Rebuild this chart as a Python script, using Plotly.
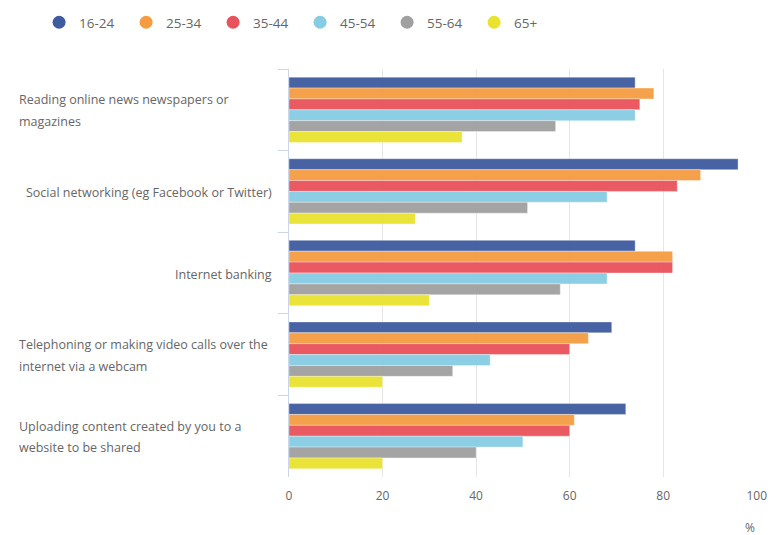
import plotly.graph_objects as go

# Activities (top to bottom) and share of internet users doing each, by age band (%)
activities = [
    "Reading online news newspapers or<br>magazines",
    "Social networking (eg Facebook or Twitter)",
    "Internet banking",
    "Telephoning or making video calls over the<br>internet via a webcam",
    "Uploading content created by you to a<br>website to be shared",
]
age_groups = ["16-24", "25-34", "35-44", "45-54", "55-64", "65+"]

age_16_24 = [74, 96, 74, 69, 72]
age_25_34 = [78, 88, 82, 64, 61]
age_35_44 = [75, 83, 82, 60, 60]
age_45_54 = [74, 68, 68, 43, 50]
age_55_64 = [57, 51, 58, 35, 40]
age_65_plus = [37, 27, 30, 20, 20]

x_ticks = [0, 20, 40, 60, 80, 100]

series = [age_16_24, age_25_34, age_35_44, age_45_54, age_55_64, age_65_plus]
colors = ["#3f5b9f", "#f59c43", "#e8525a", "#86cce2", "#a0a0a0", "#e9e330"]
text_color = "#666666"
font_family = "Open Sans, Roboto, sans-serif"

fig = go.Figure()

for name, vals, col in zip(age_groups, series, colors):
    fig.add_trace(go.Bar(
        y=activities, x=vals, orientation="h", name=name,
        marker=dict(color=col, line=dict(color="rgba(255,255,255,0.35)", width=1)),
        opacity=0.95, legendgroup=name, showlegend=False,
    ))
    # round legend swatch
    fig.add_trace(go.Scatter(
        x=[None], y=[None], mode="markers", name=name, legendgroup=name,
        marker=dict(color=col, size=13, symbol="circle"),
    ))

# category labels drawn beside the axis: wrapped labels left-aligned, single lines right-aligned
label_font = dict(size=12.5, color=text_color, family=font_family)
for cat in activities:
    lines = cat.split("<br>")
    if len(lines) == 1:
        fig.add_annotation(x=0, xref="paper", y=cat, yref="y", text=lines[0],
                           xanchor="right", xshift=-15, yshift=-1, showarrow=False,
                           font=label_font)
    else:
        shifts = [10, -11.5]
        for line, sh in zip(lines, shifts):
            fig.add_annotation(x=0, xref="paper", y=cat, yref="y", text=line,
                               xanchor="left", xshift=-272, yshift=sh, showarrow=False,
                               font=label_font)

# unit label under the axis end
fig.add_annotation(x=100, xref="x", y=0, yref="paper", text="%", showarrow=False,
                   xshift=-7, yshift=-50, yanchor="middle",
                   font=dict(size=12, color=text_color, family=font_family))

fig.update_layout(
    width=777, height=535,
    margin=dict(l=289, r=20, t=69, b=58, autoexpand=False),
    paper_bgcolor="white", plot_bgcolor="white",
    barmode="group", bargap=0.2, bargroupgap=0,
    font=dict(family=font_family, color=text_color, size=12),
    showlegend=True,
    legend=dict(orientation="h", xref="paper", yref="paper",
                x=-0.534, y=1.152, xanchor="left", yanchor="top",
                itemwidth=30, entrywidth=42, entrywidthmode="pixels",
                font=dict(size=13.5, color=text_color, family=font_family)),
    xaxis=dict(range=[0, 100.05], tickvals=x_ticks, showgrid=True, gridcolor="#e6e6e6",
               gridwidth=1, zeroline=False, showline=False, ticks="",
               ticklabelstandoff=10,
               tickfont=dict(size=12, color=text_color), fixedrange=True),
    yaxis=dict(autorange="reversed", showticklabels=False, showgrid=False,
               showline=True, linecolor="#ccd6eb", linewidth=1,
               ticks="outside", tickson="boundaries", ticklen=10, tickcolor="#ccd6eb",
               zeroline=False),
)

fig.write_html("out.html")
